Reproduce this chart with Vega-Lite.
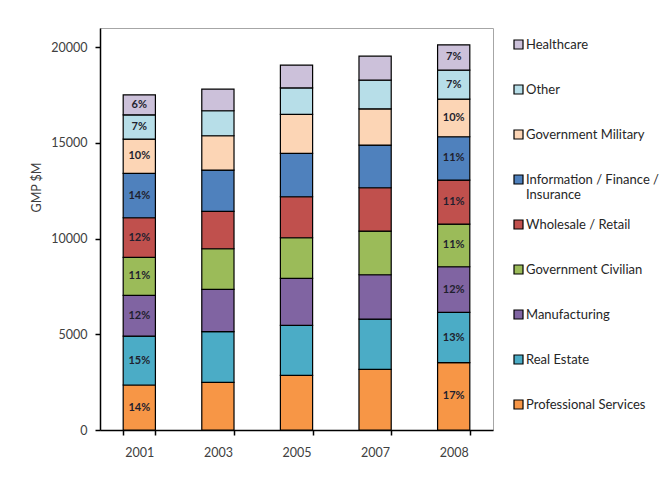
{
  "$schema": "https://vega.github.io/schema/vega-lite/v6.json",
  "autosize": {"type": "none"},
  "padding": {"left": 100, "top": 28, "right": 174, "bottom": 57},
  "width": 393,
  "height": 402,
  "background": "white",
  "config": {
    "font": "Lato",
    "view": {"stroke": "#a6a6a6", "strokeWidth": 1}
  },
  "data": {
    "values": [
      {"year": "2001", "sector": "Professional Services", "ord": 1, "gmp": 2350, "pct": "14%"},
      {"year": "2001", "sector": "Real Estate", "ord": 2, "gmp": 2559, "pct": "15%"},
      {"year": "2001", "sector": "Manufacturing", "ord": 3, "gmp": 2124, "pct": "12%"},
      {"year": "2001", "sector": "Government Civilian", "ord": 4, "gmp": 1984, "pct": "11%"},
      {"year": "2001", "sector": "Wholesale / Retail", "ord": 5, "gmp": 2071, "pct": "12%"},
      {"year": "2001", "sector": "Information / Finance / Insurance", "ord": 6, "gmp": 2315, "pct": "14%"},
      {"year": "2001", "sector": "Government Military", "ord": 7, "gmp": 1793, "pct": "10%"},
      {"year": "2001", "sector": "Other", "ord": 8, "gmp": 1270, "pct": "7%"},
      {"year": "2001", "sector": "Healthcare", "ord": 9, "gmp": 1045, "pct": "6%"},
      {"year": "2003", "sector": "Professional Services", "ord": 1, "gmp": 2490, "pct": ""},
      {"year": "2003", "sector": "Real Estate", "ord": 2, "gmp": 2645, "pct": ""},
      {"year": "2003", "sector": "Manufacturing", "ord": 3, "gmp": 2211, "pct": ""},
      {"year": "2003", "sector": "Government Civilian", "ord": 4, "gmp": 2123, "pct": ""},
      {"year": "2003", "sector": "Wholesale / Retail", "ord": 5, "gmp": 1950, "pct": ""},
      {"year": "2003", "sector": "Information / Finance / Insurance", "ord": 6, "gmp": 2158, "pct": ""},
      {"year": "2003", "sector": "Government Military", "ord": 7, "gmp": 1793, "pct": ""},
      {"year": "2003", "sector": "Other", "ord": 8, "gmp": 1306, "pct": ""},
      {"year": "2003", "sector": "Healthcare", "ord": 9, "gmp": 1131, "pct": ""},
      {"year": "2005", "sector": "Professional Services", "ord": 1, "gmp": 2855, "pct": ""},
      {"year": "2005", "sector": "Real Estate", "ord": 2, "gmp": 2611, "pct": ""},
      {"year": "2005", "sector": "Manufacturing", "ord": 3, "gmp": 2454, "pct": ""},
      {"year": "2005", "sector": "Government Civilian", "ord": 4, "gmp": 2124, "pct": ""},
      {"year": "2005", "sector": "Wholesale / Retail", "ord": 5, "gmp": 2141, "pct": ""},
      {"year": "2005", "sector": "Information / Finance / Insurance", "ord": 6, "gmp": 2263, "pct": ""},
      {"year": "2005", "sector": "Government Military", "ord": 7, "gmp": 2036, "pct": ""},
      {"year": "2005", "sector": "Other", "ord": 8, "gmp": 1386, "pct": ""},
      {"year": "2005", "sector": "Healthcare", "ord": 9, "gmp": 1191, "pct": ""},
      {"year": "2007", "sector": "Professional Services", "ord": 1, "gmp": 3168, "pct": ""},
      {"year": "2007", "sector": "Real Estate", "ord": 2, "gmp": 2628, "pct": ""},
      {"year": "2007", "sector": "Manufacturing", "ord": 3, "gmp": 2315, "pct": ""},
      {"year": "2007", "sector": "Government Civilian", "ord": 4, "gmp": 2281, "pct": ""},
      {"year": "2007", "sector": "Wholesale / Retail", "ord": 5, "gmp": 2262, "pct": ""},
      {"year": "2007", "sector": "Information / Finance / Insurance", "ord": 6, "gmp": 2229, "pct": ""},
      {"year": "2007", "sector": "Government Military", "ord": 7, "gmp": 1897, "pct": ""},
      {"year": "2007", "sector": "Other", "ord": 8, "gmp": 1497, "pct": ""},
      {"year": "2007", "sector": "Healthcare", "ord": 9, "gmp": 1253, "pct": ""},
      {"year": "2008", "sector": "Professional Services", "ord": 1, "gmp": 3516, "pct": "17%"},
      {"year": "2008", "sector": "Real Estate", "ord": 2, "gmp": 2628, "pct": "13%"},
      {"year": "2008", "sector": "Manufacturing", "ord": 3, "gmp": 2385, "pct": "12%"},
      {"year": "2008", "sector": "Government Civilian", "ord": 4, "gmp": 2228, "pct": "11%"},
      {"year": "2008", "sector": "Wholesale / Retail", "ord": 5, "gmp": 2298, "pct": "11%"},
      {"year": "2008", "sector": "Information / Finance / Insurance", "ord": 6, "gmp": 2263, "pct": "11%"},
      {"year": "2008", "sector": "Government Military", "ord": 7, "gmp": 1967, "pct": "10%"},
      {"year": "2008", "sector": "Other", "ord": 8, "gmp": 1514, "pct": "7%"},
      {"year": "2008", "sector": "Healthcare", "ord": 9, "gmp": 1322, "pct": "7%"}
    ]
  },
  "transform": [
    {"stack": "gmp", "groupby": ["year"], "sort": [{"field": "ord", "order": "ascending"}], "as": ["lo", "hi"]},
    {"calculate": "(datum.lo + datum.hi) / 2", "as": "mid"}
  ],
  "encoding": {
    "x": {
      "field": "year",
      "type": "nominal",
      "scale": {"paddingInner": 0.59, "paddingOuter": 0.295},
      "axis": {
        "title": null,
        "labelAngle": 0,
        "labelFontSize": 12.5,
        "labelColor": "#404040",
        "labelPadding": 11,
        "tickBand": "extent",
        "tickSize": 5,
        "tickColor": "#000000",
        "domainColor": "#000000",
        "domainWidth": 1.5,
        "tickWidth": 1.5
      }
    }
  },
  "layer": [
    {
      "mark": {"type": "bar", "stroke": "#000000", "strokeWidth": 1.2},
      "encoding": {
        "y": {
          "field": "lo",
          "type": "quantitative",
          "scale": {"domain": [0, 21000], "nice": false},
          "axis": {
            "title": "GMP $M",
            "titleFontSize": 12.5,
            "titleFontWeight": "normal",
            "titleColor": "#404040",
            "titleX": -64,
            "titleY": 159,
            "titleBaseline": "middle",
            "titleAngle": -90,
            "values": [0, 5000, 10000, 15000, 20000],
            "format": "d",
            "labelFontSize": 12.5,
            "labelColor": "#404040",
            "labelPadding": 8,
            "tickSize": 5,
            "tickColor": "#000000",
            "tickWidth": 1.5,
            "domainColor": "#000000",
            "domainWidth": 1.5,
            "grid": false
          }
        },
        "y2": {"field": "hi"},
        "color": {
          "field": "sector",
          "type": "nominal",
          "scale": {
            "domain": ["Healthcare", "Other", "Government Military", "Information / Finance / Insurance", "Wholesale / Retail", "Government Civilian", "Manufacturing", "Real Estate", "Professional Services"],
            "range": ["#CCC1DA", "#B7DEE8", "#FCD5B5", "#4F81BD", "#C0504D", "#9BBB59", "#8064A2", "#4BACC6", "#F79646"]
          },
          "legend": {
            "title": null,
            "orient": "none",
            "legendX": 412,
            "legendY": 10,
            "padding": 0,
            "symbolType": "square",
            "symbolSize": 81,
            "symbolStrokeColor": "#000000",
            "symbolStrokeWidth": 1.2,
            "symbolOpacity": 1,
            "labelFontSize": 13,
            "labelColor": "#262626",
            "labelOffset": 1,
            "labelLimit": 200,
            "labelBaseline": "middle",
            "gridAlign": "all",
            "rowPadding": 15,
            "labelExpr": "datum.label == 'Information / Finance / Insurance' ? ['Information / Finance /', 'Insurance'] : datum.label"
          }
        }
      }
    },
    {
      "mark": {"type": "text", "fontSize": 11, "fontWeight": "bold", "color": "#1f1f2e"},
      "encoding": {
        "y": {"field": "mid", "type": "quantitative"},
        "text": {"field": "pct"}
      }
    }
  ]
}
